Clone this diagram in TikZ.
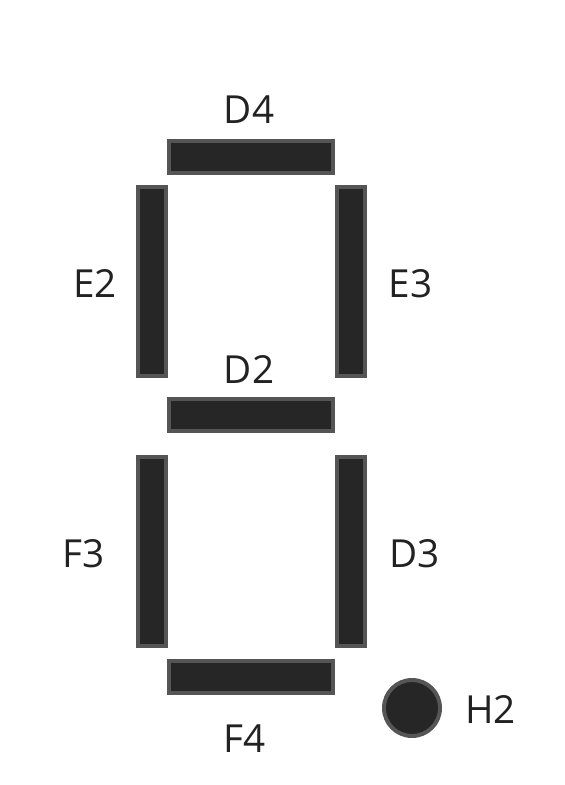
\documentclass[tikz,border=0pt]{standalone}
\usepackage{fontspec}
\setmainfont{Open Sans}
\usetikzlibrary{math}
\definecolor{segfill}{HTML}{262626}
\definecolor{segline}{HTML}{555555}
\definecolor{labtext}{HTML}{222222}

\begin{document}
\begin{tikzpicture}[x=0.75pt,y=-0.75pt,
	seg/.style={draw=segline,fill=segfill,line width=3pt,inner sep=0pt},
	hseg/.style={seg,rectangle,minimum width=123pt,minimum height=24pt},
	vseg/.style={seg,rectangle,minimum width=21pt,minimum height=141.75pt},
	dotseg/.style={seg,circle,minimum size=42pt},
	lab/.style={anchor=base,text=labtext,inner sep=0pt,font=\fontsize{29}{34}\selectfont}]

	\tikzmath{\xl = 152; \xm = 251; \xr = 350.5;
			  \yt = 157; \yu = 281.5; \ym = 414.5; \yd = 551.5; \yb = 677;
	        }
	\useasboundingbox (0,0) rectangle (564,785);

	% segments
	\node[hseg] (segD4) at (\xm,\yt) {};
	\node[vseg] (segE2) at (\xl,\yu) {};
	\node[vseg] (segE3) at (\xr,\yu) {};
	\node[hseg] (segD2) at (\xm,\ym) {};
	\node[vseg] (segF3) at (\xl,\yd) {};
	\node[vseg] (segD3) at (\xr,\yd) {};
	\node[hseg] (segF4) at (\xm,\yb) {};
	\node[dotseg] (segH2) at (412,708) {};

	% labels
	\node[lab] (labD4) at (249,123) {D4};
	\node[lab] (labE2) at (95,297) {E2};
	\node[lab] (labE3) at (410.5,297) {E3};
	\node[lab] (labD2) at (249,383) {D2};
	\node[lab] (labF3) at (83.5,567) {F3};
	\node[lab] (labD3) at (414.5,567) {D3};
	\node[lab] (labF4) at (245,752) {F4};
	\node[lab] (labH2) at (490.5,723) {H2};
\end{tikzpicture}
\end{document}
